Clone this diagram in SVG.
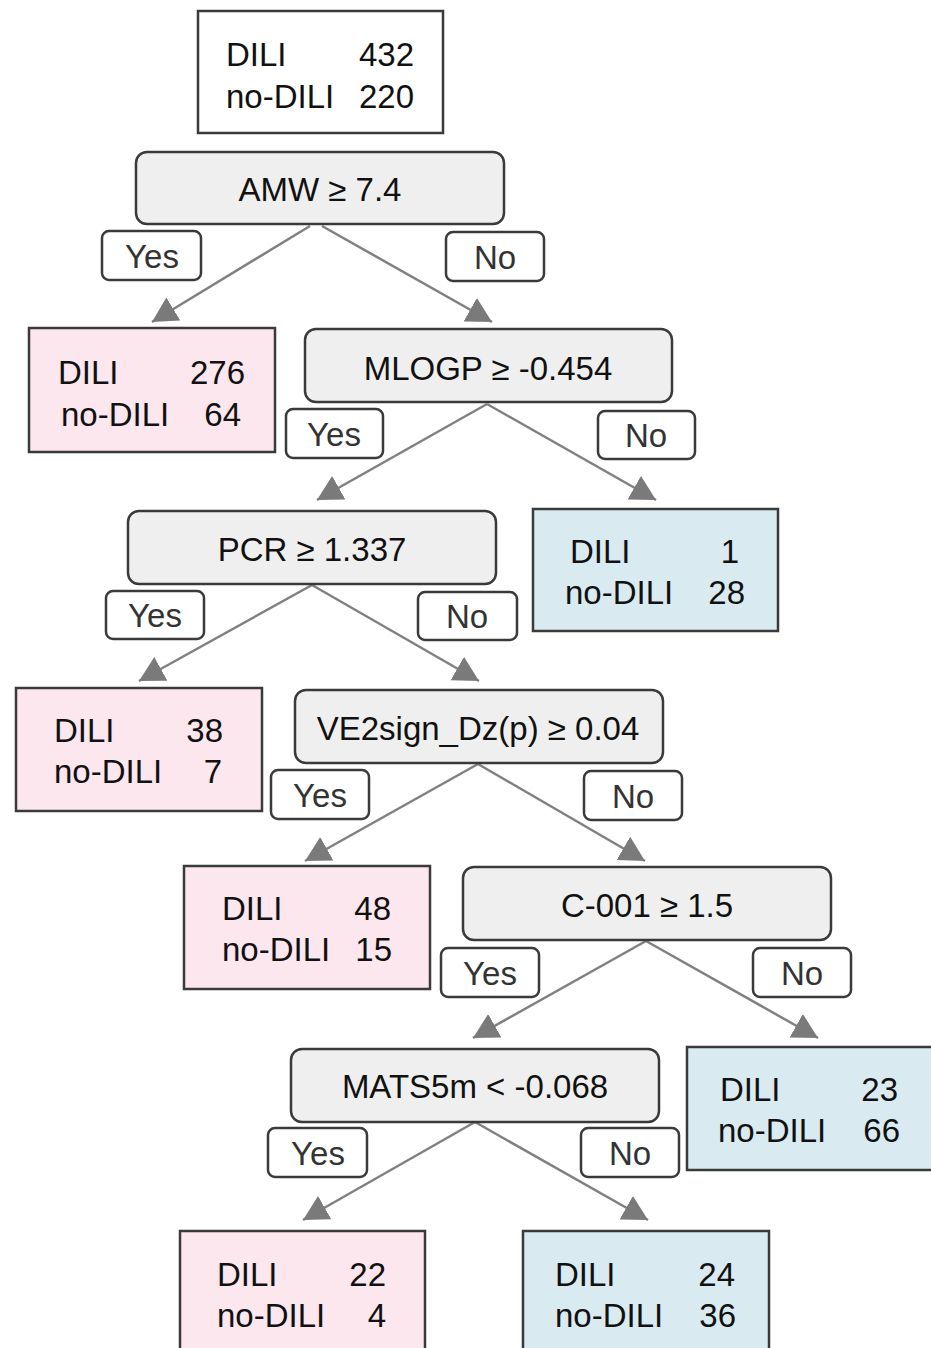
<svg xmlns="http://www.w3.org/2000/svg" width="931" height="1348" viewBox="0 0 931 1348">
<defs>
<style>
text{font-family:"Liberation Sans",Arial,sans-serif;font-size:33px;fill:#111}
.leaf{stroke:#3a3a3a;stroke-width:2.5}
.root{fill:#fff}
.pink{fill:#fde7ef}
.blue{fill:#d9ebf1}
.cond{fill:#efefef;stroke:#3a3a3a;stroke-width:2.5}
.lab{fill:#fff;stroke:#3a3a3a;stroke-width:2.5}
.lab+text,.lt{fill:#333}
.c{text-anchor:middle}
.e{text-anchor:end}
.conn line{stroke:#808080;stroke-width:2.5;marker-end:url(#ah)}
</style>
<marker id="ah" markerUnits="userSpaceOnUse" viewBox="0 -14 26 28" refX="25" refY="0" markerWidth="26" markerHeight="28" orient="auto">
<path d="M0,-13.5 L25,0 L0,13.5 Z" fill="#7a7a7a"/>
</marker>
</defs>
<rect width="931" height="1348" fill="#fff"/>

<g id="connectors" class="conn">
<line x1="310" y1="226" x2="152" y2="322"/>
<line x1="322" y1="226" x2="492" y2="322"/>
<line x1="487" y1="404" x2="317" y2="500"/>
<line x1="487" y1="404" x2="656" y2="500"/>
<line x1="312" y1="585" x2="139" y2="681"/>
<line x1="312" y1="585" x2="479" y2="681"/>
<line x1="478" y1="764" x2="305" y2="861"/>
<line x1="478" y1="764" x2="645" y2="861"/>
<line x1="646" y1="941" x2="473" y2="1038"/>
<line x1="646" y1="941" x2="818" y2="1038"/>
<line x1="475" y1="1122" x2="303" y2="1220"/>
<line x1="475" y1="1122" x2="648" y2="1220"/>
</g>

<g id="root">
<rect class="leaf root" x="198" y="11" width="245" height="122"/>
<text x="226" y="66">DILI</text><text class="e" x="414" y="66">432</text>
<text x="226" y="108">no-DILI</text><text class="e" x="414" y="108">220</text>
</g>

<g id="n-amw">
<rect class="cond" x="136" y="152" width="368" height="72" rx="11"/>
<text class="c" x="320" y="201">AMW ≥ 7.4</text>
</g>
<g id="l-amw-yes"><rect class="lab" x="102" y="231" width="99" height="49" rx="7"/><text class="c lt" x="152" y="268">Yes</text></g>
<g id="l-amw-no"><rect class="lab" x="446" y="232" width="98" height="49" rx="7"/><text class="c lt" x="495" y="269">No</text></g>

<g id="leaf-276">
<rect class="leaf pink" x="29" y="328" width="246" height="124"/>
<text x="58" y="384">DILI</text><text class="e" x="245" y="384">276</text>
<text x="61" y="426">no-DILI</text><text class="e" x="241" y="426">64</text>
</g>

<g id="n-mlogp">
<rect class="cond" x="305" y="329" width="367" height="73" rx="11"/>
<text class="c" x="488" y="380">MLOGP ≥ -0.454</text>
</g>
<g id="l-mlogp-yes"><rect class="lab" x="286" y="409" width="97" height="49" rx="7"/><text class="c lt" x="334" y="446">Yes</text></g>
<g id="l-mlogp-no"><rect class="lab" x="598" y="411" width="97" height="48" rx="7"/><text class="c lt" x="646" y="447">No</text></g>

<g id="n-pcr">
<rect class="cond" x="128" y="511" width="368" height="73" rx="11"/>
<text class="c" x="312" y="561">PCR ≥ 1.337</text>
</g>
<g id="l-pcr-yes"><rect class="lab" x="106" y="591" width="98" height="48" rx="7"/><text class="c lt" x="155" y="627">Yes</text></g>
<g id="l-pcr-no"><rect class="lab" x="418" y="592" width="99" height="48" rx="7"/><text class="c lt" x="467" y="628">No</text></g>

<g id="leaf-1">
<rect class="leaf blue" x="533" y="509" width="245" height="122"/>
<text x="570" y="563">DILI</text><text class="e" x="739" y="563">1</text>
<text x="565" y="604">no-DILI</text><text class="e" x="745" y="604">28</text>
</g>

<g id="leaf-38">
<rect class="leaf pink" x="16" y="688" width="246" height="123"/>
<text x="54" y="742">DILI</text><text class="e" x="223" y="742">38</text>
<text x="54" y="783">no-DILI</text><text class="e" x="222" y="783">7</text>
</g>

<g id="n-ve2">
<rect class="cond" x="295" y="690" width="368" height="73" rx="11"/>
<text class="c" x="478" y="740">VE2sign_Dz(p) ≥ 0.04</text>
</g>
<g id="l-ve2-yes"><rect class="lab" x="271" y="770" width="98" height="49" rx="7"/><text class="c lt" x="320" y="807">Yes</text></g>
<g id="l-ve2-no"><rect class="lab" x="584" y="771" width="98" height="49" rx="7"/><text class="c lt" x="633" y="808">No</text></g>

<g id="leaf-48">
<rect class="leaf pink" x="184" y="866" width="246" height="123"/>
<text x="222" y="920">DILI</text><text class="e" x="391" y="920">48</text>
<text x="222" y="961">no-DILI</text><text class="e" x="392" y="961">15</text>
</g>

<g id="n-c001">
<rect class="cond" x="463" y="867" width="368" height="73" rx="11"/>
<text class="c" x="647" y="917">C-001 ≥ 1.5</text>
</g>
<g id="l-c001-yes"><rect class="lab" x="441" y="948" width="98" height="49" rx="7"/><text class="c lt" x="490" y="985">Yes</text></g>
<g id="l-c001-no"><rect class="lab" x="753" y="948" width="98" height="49" rx="7"/><text class="c lt" x="802" y="985">No</text></g>

<g id="n-mats">
<rect class="cond" x="291" y="1049" width="368" height="73" rx="11"/>
<text class="c" x="475" y="1098">MATS5m &lt; -0.068</text>
</g>
<g id="l-mats-yes"><rect class="lab" x="268" y="1128" width="99" height="49" rx="7"/><text class="c lt" x="318" y="1165">Yes</text></g>
<g id="l-mats-no"><rect class="lab" x="581" y="1128" width="98" height="49" rx="7"/><text class="c lt" x="630" y="1165">No</text></g>

<g id="leaf-23">
<rect class="leaf blue" x="687" y="1047" width="246" height="123"/>
<text x="720" y="1101">DILI</text><text class="e" x="898" y="1101">23</text>
<text x="718" y="1142">no-DILI</text><text class="e" x="900" y="1142">66</text>
</g>

<g id="leaf-22">
<rect class="leaf pink" x="180" y="1231" width="245" height="125"/>
<text x="217" y="1286">DILI</text><text class="e" x="386" y="1286">22</text>
<text x="217" y="1327">no-DILI</text><text class="e" x="386" y="1327">4</text>
</g>

<g id="leaf-24">
<rect class="leaf blue" x="523" y="1231" width="246" height="125"/>
<text x="555" y="1286">DILI</text><text class="e" x="735" y="1286">24</text>
<text x="555" y="1327">no-DILI</text><text class="e" x="736" y="1327">36</text>
</g>
</svg>
